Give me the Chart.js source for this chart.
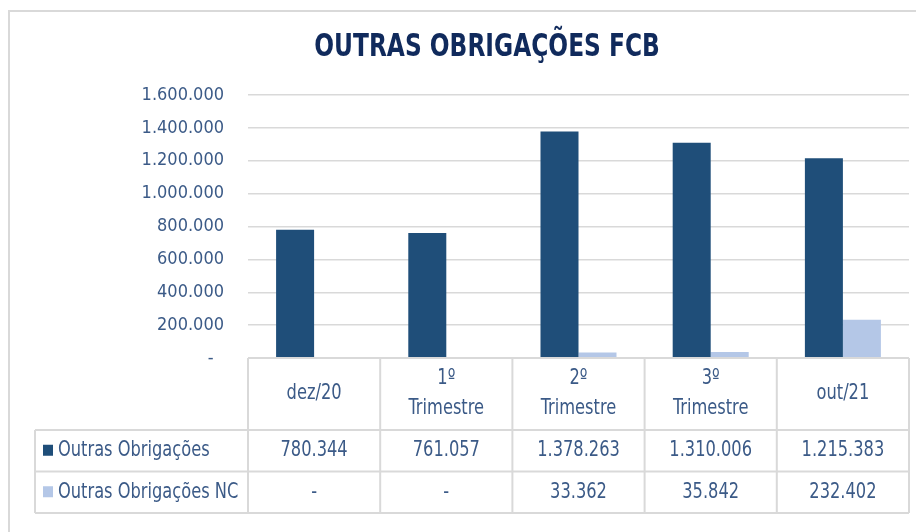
<!DOCTYPE html>
<html lang="pt">
<head>
<meta charset="utf-8">
<title>Outras Obrigações FCB</title>
<script src="https://cdn.jsdelivr.net/npm/chart.js@4.4.1/dist/chart.umd.min.js"></script>
<style>
  html, body { margin: 0; padding: 0; background: #fff; }
  #wrap { position: relative; width: 916px; height: 532px; }
</style>
</head>
<body>
<div id="wrap"><canvas id="chart"></canvas></div>
<script>
const chartTitle = 'OUTRAS OBRIGAÇÕES FCB';
const categories = ['dez/20', ['1º', 'Trimestre'], ['2º', 'Trimestre'], ['3º', 'Trimestre'], 'out/21'];
const seriesNames = ['Outras Obrigações', 'Outras Obrigações NC'];
const outrasObrigacoes = [780344, 761057, 1378263, 1310006, 1215383];
const outrasObrigacoesNC = [0, 0, 33362, 35842, 232402];
const yTicks = [0, 200000, 400000, 600000, 800000, 1000000, 1200000, 1400000, 1600000];

const darkBlue = '#1f4e79';
const lightBlue = '#b4c7e7';
const textColor = '#3b5a87';
const titleColor = '#102a5c';
const lineColor = '#d9d9d9';
const fontFamily = "'DejaVu Sans Condensed', 'Liberation Sans Narrow', sans-serif";

function fmt(v) {
  if (!v) return '-';
  return String(v).replace(/\B(?=(\d{3})+(?!\d))/g, '.');
}

// the original font is narrow, so squeeze the text a bit horizontally
function narrowText(ctx, text, x, y, sx) {
  ctx.save();
  ctx.translate(x, y);
  ctx.scale(sx, 1);
  ctx.fillText(text, 0, 0);
  ctx.restore();
}

// frame, title and the data table under the bars
const frameAndTable = {
  id: 'frameAndTable',
  beforeDraw(chart) {
    const ctx = chart.ctx;
    ctx.save();
    ctx.strokeStyle = lineColor;
    ctx.lineWidth = 2;
    ctx.beginPath();
    ctx.moveTo(9, chart.height);
    ctx.lineTo(9, 11);
    ctx.lineTo(chart.width, 11);
    ctx.stroke();

    ctx.fillStyle = titleColor;
    ctx.font = 'bold 32px ' + fontFamily;
    ctx.textAlign = 'center';
    ctx.textBaseline = 'middle';
    narrowText(ctx, chartTitle, 487, 48, 0.81);
    ctx.restore();
  },
  afterDraw(chart) {
    const { ctx, chartArea, scales: { x } } = chart;
    const half = (x.getPixelForValue(1) - x.getPixelForValue(0)) / 2;
    const top = chartArea.bottom;
    const headerH = 72;
    const rowH = 41.5;
    const tableLeft = 35;
    const headerBottom = top + headerH;
    const bottom = headerBottom + rowH * seriesNames.length;
    const sx = 0.86;

    ctx.save();
    ctx.strokeStyle = lineColor;
    ctx.lineWidth = 2;
    ctx.beginPath();
    ctx.moveTo(chartArea.left, top);
    ctx.lineTo(chartArea.right, top);
    for (let r = 0; r <= seriesNames.length; r++) {
      ctx.moveTo(tableLeft, headerBottom + r * rowH);
      ctx.lineTo(chartArea.right, headerBottom + r * rowH);
    }
    for (let i = 0; i <= categories.length; i++) {
      const px = x.getPixelForValue(0) - half + i * half * 2;
      ctx.moveTo(px, top);
      ctx.lineTo(px, bottom);
    }
    ctx.moveTo(tableLeft, headerBottom);
    ctx.lineTo(tableLeft, bottom);
    ctx.stroke();

    ctx.fillStyle = textColor;
    ctx.font = '21px ' + fontFamily;
    ctx.textAlign = 'center';
    ctx.textBaseline = 'middle';
    categories.forEach((c, i) => {
      const lines = Array.isArray(c) ? c : [c];
      const cx = x.getPixelForValue(i);
      const cy = top + headerH / 2 - (lines.length - 1) * 15;
      lines.forEach((l, j) => narrowText(ctx, l, cx, cy + j * 30, sx));
    });

    const series = [outrasObrigacoes, outrasObrigacoesNC];
    const colors = [darkBlue, lightBlue];
    series.forEach((values, r) => {
      const cy = headerBottom + rowH * r + rowH / 2;
      ctx.fillStyle = colors[r];
      ctx.fillRect(43, cy - 6, 10, 11);
      ctx.fillStyle = textColor;
      ctx.textAlign = 'left';
      narrowText(ctx, seriesNames[r], 58, cy, sx);
      ctx.textAlign = 'center';
      values.forEach((v, i) => narrowText(ctx, fmt(v), x.getPixelForValue(i), cy, sx));
    });
    ctx.restore();
  }
};

new Chart(document.getElementById('chart'), {
  type: 'bar',
  data: {
    labels: categories,
    datasets: [
      { label: seriesNames[0], data: outrasObrigacoes, backgroundColor: darkBlue },
      { label: seriesNames[1], data: outrasObrigacoesNC, backgroundColor: lightBlue }
    ]
  },
  options: {
    responsive: true,
    maintainAspectRatio: false,
    animation: false,
    datasets: { bar: { categoryPercentage: 0.575, barPercentage: 1 } },
    layout: { padding: { top: 95, right: 7, bottom: 102, left: 0 } },
    plugins: {
      legend: { display: false },
      title: { display: false },
      tooltip: { enabled: false }
    },
    scales: {
      x: {
        grid: { display: false },
        border: { display: false },
        ticks: { display: false },
        afterFit(scale) { scale.height = 72; }
      },
      y: {
        min: 0,
        max: 1600000,
        afterBuildTicks(scale) { scale.ticks = yTicks.map(v => ({ value: v })); },
        afterFit(scale) { scale.width = 248; },
        grid: { color: lineColor, lineWidth: 1.5, drawTicks: false },
        border: { display: false },
        ticks: {
          padding: 24,
          color: textColor,
          font: { family: fontFamily, size: 18 },
          callback: v => (v === 0 ? '-  ' : fmt(v))
        }
      }
    }
  },
  plugins: [frameAndTable]
});
</script>
</body>
</html>
